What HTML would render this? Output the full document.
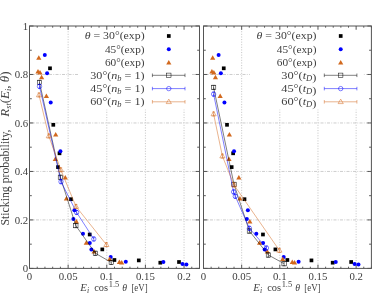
<!DOCTYPE html>
<html><head><meta charset="utf-8"><title>Sticking probability</title>
<style>html,body{margin:0;padding:0;background:#fff;}body{width:374px;height:303px;overflow:hidden;font-family:"Liberation Serif",serif;}svg{display:block;will-change:transform;opacity:0.999;}</style>
</head><body>
<svg width="374" height="303" viewBox="0 0 374 303" font-family="'Liberation Serif', serif" font-size="10.8" fill="#404040">
<rect width="374" height="303" fill="#fff"/>
<path d="M68.14 26.0V268.4M106.77 26.0V268.4M145.41 26.0V268.4M184.05 26.0V268.4" stroke="#909090" stroke-width="0.5" stroke-dasharray="1.1 1.5" fill="none"/>
<path d="M29.5 219.92H199.5M29.5 171.44H199.5M29.5 122.96H199.5M29.5 74.48H199.5" stroke="#9a9a9a" stroke-width="0.5" stroke-dasharray="3 1.3 0.9 1.3" fill="none"/>
<rect x="78.0" y="29.0" width="113.5" height="80.5" fill="#fff"/>
<path d="M29.50 268.4v-3.8M29.50 26.0v3.8M37.23 268.4v-1.7M37.23 26.0v1.7M44.95 268.4v-1.7M44.95 26.0v1.7M52.68 268.4v-1.7M52.68 26.0v1.7M60.41 268.4v-1.7M60.41 26.0v1.7M68.14 268.4v-3.8M68.14 26.0v3.8M75.86 268.4v-1.7M75.86 26.0v1.7M83.59 268.4v-1.7M83.59 26.0v1.7M91.32 268.4v-1.7M91.32 26.0v1.7M99.05 268.4v-1.7M99.05 26.0v1.7M106.77 268.4v-3.8M106.77 26.0v3.8M114.50 268.4v-1.7M114.50 26.0v1.7M122.23 268.4v-1.7M122.23 26.0v1.7M129.95 268.4v-1.7M129.95 26.0v1.7M137.68 268.4v-1.7M137.68 26.0v1.7M145.41 268.4v-3.8M145.41 26.0v3.8M153.14 268.4v-1.7M153.14 26.0v1.7M160.86 268.4v-1.7M160.86 26.0v1.7M168.59 268.4v-1.7M168.59 26.0v1.7M176.32 268.4v-1.7M176.32 26.0v1.7M184.05 268.4v-3.8M184.05 26.0v3.8M191.77 268.4v-1.7M191.77 26.0v1.7M199.50 268.4v-1.7M199.50 26.0v1.7M29.5 268.40h4.0M199.5 268.40h-4.0M29.5 244.16h2.3M199.5 244.16h-2.3M29.5 219.92h4.0M199.5 219.92h-4.0M29.5 195.68h2.3M199.5 195.68h-2.3M29.5 171.44h4.0M199.5 171.44h-4.0M29.5 147.20h2.3M199.5 147.20h-2.3M29.5 122.96h4.0M199.5 122.96h-4.0M29.5 98.72h2.3M199.5 98.72h-2.3M29.5 74.48h4.0M199.5 74.48h-4.0M29.5 50.24h2.3M199.5 50.24h-2.3M29.5 26.00h4.0M199.5 26.00h-4.0" stroke="#333" stroke-width="0.8" fill="none"/>
<rect x="48.15" y="66.45" width="3.7" height="3.7" fill="#000000"/>
<rect x="51.45" y="122.95" width="3.7" height="3.7" fill="#000000"/>
<rect x="57.65" y="151.45" width="3.7" height="3.7" fill="#000000"/>
<rect x="56.15" y="165.25" width="3.7" height="3.7" fill="#000000"/>
<rect x="69.15" y="197.35" width="3.7" height="3.7" fill="#000000"/>
<rect x="87.85" y="232.65" width="3.7" height="3.7" fill="#000000"/>
<rect x="100.45" y="247.55" width="3.7" height="3.7" fill="#000000"/>
<rect x="112.55" y="258.15" width="3.7" height="3.7" fill="#000000"/>
<rect x="136.95" y="258.55" width="3.7" height="3.7" fill="#000000"/>
<rect x="158.45" y="260.85" width="3.7" height="3.7" fill="#000000"/>
<rect x="177.16" y="260.15" width="3.7" height="3.7" fill="#000000"/>
<circle cx="44.80" cy="55.00" r="2.0" fill="#0000ff"/>
<circle cx="47.10" cy="73.20" r="2.0" fill="#0000ff"/>
<circle cx="50.70" cy="102.40" r="2.0" fill="#0000ff"/>
<circle cx="60.40" cy="151.30" r="2.0" fill="#0000ff"/>
<circle cx="74.40" cy="210.20" r="2.0" fill="#0000ff"/>
<circle cx="73.40" cy="219.00" r="2.0" fill="#0000ff"/>
<circle cx="83.00" cy="233.70" r="2.0" fill="#0000ff"/>
<circle cx="89.80" cy="243.00" r="2.0" fill="#0000ff"/>
<circle cx="91.40" cy="249.50" r="2.0" fill="#0000ff"/>
<circle cx="110.70" cy="257.10" r="2.0" fill="#0000ff"/>
<circle cx="125.80" cy="261.70" r="2.0" fill="#0000ff"/>
<circle cx="163.40" cy="262.10" r="2.0" fill="#0000ff"/>
<circle cx="182.51" cy="264.10" r="2.0" fill="#0000ff"/>
<circle cx="186.41" cy="264.50" r="2.0" fill="#0000ff"/>
<path d="M36.20 59.80L41.40 59.80L38.80 55.30Z" fill="#d2691e"/>
<path d="M35.40 73.50L40.60 73.50L38.00 69.00Z" fill="#d2691e"/>
<path d="M37.40 74.50L42.60 74.50L40.00 70.00Z" fill="#d2691e"/>
<path d="M39.00 79.30L44.20 79.30L41.60 74.80Z" fill="#d2691e"/>
<path d="M43.80 97.90L49.00 97.90L46.40 93.40Z" fill="#d2691e"/>
<path d="M53.10 136.50L58.30 136.50L55.70 132.00Z" fill="#d2691e"/>
<path d="M52.70 160.90L57.90 160.90L55.30 156.40Z" fill="#d2691e"/>
<path d="M62.70 179.50L67.90 179.50L65.30 175.00Z" fill="#d2691e"/>
<path d="M63.80 200.60L69.00 200.60L66.40 196.10Z" fill="#d2691e"/>
<path d="M73.80 223.50L79.00 223.50L76.40 219.00Z" fill="#d2691e"/>
<path d="M83.70 244.80L88.90 244.80L86.30 240.30Z" fill="#d2691e"/>
<path d="M91.50 253.50L96.70 253.50L94.10 249.00Z" fill="#d2691e"/>
<path d="M107.10 260.90L112.30 260.90L109.70 256.40Z" fill="#d2691e"/>
<path d="M116.80 263.90L122.00 263.90L119.40 259.40Z" fill="#d2691e"/>
<path d="M119.10 264.50L124.30 264.50L121.70 260.00Z" fill="#d2691e"/>
<polyline points="39.50,82.40 60.40,177.30 75.80,225.60 95.40,253.30 111.30,262.40" fill="none" stroke="#000000" stroke-width="0.5"/>
<path d="M39.50 80.40V84.40M38.10 80.40H40.90M38.10 84.40H40.90" stroke="#000000" stroke-width="0.5" fill="none"/>
<rect x="37.30" y="80.20" width="4.4" height="4.4" fill="none" stroke="#000000" stroke-width="0.5"/>
<path d="M60.40 175.30V179.30M59.00 175.30H61.80M59.00 179.30H61.80" stroke="#000000" stroke-width="0.5" fill="none"/>
<rect x="58.20" y="175.10" width="4.4" height="4.4" fill="none" stroke="#000000" stroke-width="0.5"/>
<path d="M75.80 223.60V227.60M74.40 223.60H77.20M74.40 227.60H77.20" stroke="#000000" stroke-width="0.5" fill="none"/>
<rect x="73.60" y="223.40" width="4.4" height="4.4" fill="none" stroke="#000000" stroke-width="0.5"/>
<path d="M95.40 251.30V255.30M94.00 251.30H96.80M94.00 255.30H96.80" stroke="#000000" stroke-width="0.5" fill="none"/>
<rect x="93.20" y="251.10" width="4.4" height="4.4" fill="none" stroke="#000000" stroke-width="0.5"/>
<path d="M111.30 260.40V264.40M109.90 260.40H112.70M109.90 264.40H112.70" stroke="#000000" stroke-width="0.5" fill="none"/>
<rect x="109.10" y="260.20" width="4.4" height="4.4" fill="none" stroke="#000000" stroke-width="0.5"/>
<polyline points="39.50,86.40 61.00,181.70 76.60,212.40 93.80,239.00" fill="none" stroke="#0000ff" stroke-width="0.5"/>
<path d="M39.50 84.40V88.40M38.10 84.40H40.90M38.10 88.40H40.90" stroke="#0000ff" stroke-width="0.5" fill="none"/>
<circle cx="39.50" cy="86.40" r="2.2" fill="none" stroke="#0000ff" stroke-width="0.5"/>
<path d="M61.00 179.70V183.70M59.60 179.70H62.40M59.60 183.70H62.40" stroke="#0000ff" stroke-width="0.5" fill="none"/>
<circle cx="61.00" cy="181.70" r="2.2" fill="none" stroke="#0000ff" stroke-width="0.5"/>
<path d="M76.60 210.40V214.40M75.20 210.40H78.00M75.20 214.40H78.00" stroke="#0000ff" stroke-width="0.5" fill="none"/>
<circle cx="76.60" cy="212.40" r="2.2" fill="none" stroke="#0000ff" stroke-width="0.5"/>
<path d="M93.80 237.00V241.00M92.40 237.00H95.20M92.40 241.00H95.20" stroke="#0000ff" stroke-width="0.5" fill="none"/>
<circle cx="93.80" cy="239.00" r="2.2" fill="none" stroke="#0000ff" stroke-width="0.5"/>
<polyline points="39.00,95.00 48.80,136.00 60.80,169.80 76.00,206.50 106.40,244.70" fill="none" stroke="#d2691e" stroke-width="0.5"/>
<path d="M39.00 93.00V97.00M37.60 93.00H40.40M37.60 97.00H40.40" stroke="#d2691e" stroke-width="0.5" fill="none"/>
<path d="M36.40 96.80L41.60 96.80L39.00 92.30Z" fill="none" stroke="#d2691e" stroke-width="0.5"/>
<path d="M48.80 134.00V138.00M47.40 134.00H50.20M47.40 138.00H50.20" stroke="#d2691e" stroke-width="0.5" fill="none"/>
<path d="M46.20 137.80L51.40 137.80L48.80 133.30Z" fill="none" stroke="#d2691e" stroke-width="0.5"/>
<path d="M60.80 167.80V171.80M59.40 167.80H62.20M59.40 171.80H62.20" stroke="#d2691e" stroke-width="0.5" fill="none"/>
<path d="M58.20 171.60L63.40 171.60L60.80 167.10Z" fill="none" stroke="#d2691e" stroke-width="0.5"/>
<path d="M76.00 204.50V208.50M74.60 204.50H77.40M74.60 208.50H77.40" stroke="#d2691e" stroke-width="0.5" fill="none"/>
<path d="M73.40 208.30L78.60 208.30L76.00 203.80Z" fill="none" stroke="#d2691e" stroke-width="0.5"/>
<path d="M106.40 242.70V246.70M105.00 242.70H107.80M105.00 246.70H107.80" stroke="#d2691e" stroke-width="0.5" fill="none"/>
<path d="M103.80 246.50L109.00 246.50L106.40 242.00Z" fill="none" stroke="#d2691e" stroke-width="0.5"/>
<rect x="29.5" y="26.0" width="170.0" height="242.39999999999998" fill="none" stroke="#555" stroke-width="1"/>
<text x="29.50" y="279.8" text-anchor="middle">0</text>
<text x="68.14" y="279.8" text-anchor="middle">0.05</text>
<text x="106.77" y="279.8" text-anchor="middle">0.1</text>
<text x="145.41" y="279.8" text-anchor="middle">0.15</text>
<text x="184.05" y="279.8" text-anchor="middle">0.2</text>
<text x="80.20" y="291.0" font-style="italic" textLength="6.6" lengthAdjust="spacingAndGlyphs">E</text>
<text x="87.10" y="292.7" font-style="italic" font-size="7.8">i</text>
<text x="94.20" y="291.0" textLength="13.9" lengthAdjust="spacingAndGlyphs">cos</text>
<text x="108.70" y="287.3" font-size="7.8" textLength="10.5" lengthAdjust="spacingAndGlyphs">1.5</text>
<text x="122.30" y="291.0" font-style="italic" textLength="4.8" lengthAdjust="spacingAndGlyphs">θ</text>
<text x="131.40" y="291.0" textLength="16.2" lengthAdjust="spacingAndGlyphs">[eV]</text>
<text x="84.70" y="39.20" textLength="59.9" lengthAdjust="spacingAndGlyphs"><tspan font-style="italic">θ</tspan> = 30°(exp)</text>
<text x="104.90" y="52.50" textLength="39.7" lengthAdjust="spacingAndGlyphs">45°(exp)</text>
<text x="104.90" y="65.60" textLength="39.7" lengthAdjust="spacingAndGlyphs">60°(exp)</text>
<text x="90.30" y="78.90" textLength="54.3" lengthAdjust="spacingAndGlyphs">30°(<tspan font-style="italic">n<tspan font-size="7.5" dy="1.6">b</tspan><tspan dy="-1.6" font-style="normal"> = 1</tspan></tspan>)</text>
<text x="90.30" y="92.20" textLength="54.3" lengthAdjust="spacingAndGlyphs">45°(<tspan font-style="italic">n<tspan font-size="7.5" dy="1.6">b</tspan><tspan dy="-1.6" font-style="normal"> = 1</tspan></tspan>)</text>
<text x="90.30" y="105.40" textLength="54.3" lengthAdjust="spacingAndGlyphs">60°(<tspan font-style="italic">n<tspan font-size="7.5" dy="1.6">b</tspan><tspan dy="-1.6" font-style="normal"> = 1</tspan></tspan>)</text>
<rect x="166.95" y="34.15" width="3.7" height="3.7" fill="#000000"/>
<circle cx="168.80" cy="49.30" r="2.0" fill="#0000ff"/>
<path d="M166.20 64.40L171.40 64.40L168.80 59.90Z" fill="#d2691e"/>
<path d="M152.40 75.3H185.00M152.40 73.5v3.6M185.00 73.5v3.6" stroke="#000000" stroke-width="0.5" fill="none"/>
<rect x="166.60" y="73.10" width="4.4" height="4.4" fill="none" stroke="#000000" stroke-width="0.5"/>
<path d="M152.40 88.6H185.00M152.40 86.8v3.6M185.00 86.8v3.6" stroke="#0000ff" stroke-width="0.5" fill="none"/>
<circle cx="168.80" cy="88.60" r="2.2" fill="none" stroke="#0000ff" stroke-width="0.5"/>
<path d="M152.40 101.8H185.00M152.40 100.0v3.6M185.00 100.0v3.6" stroke="#d2691e" stroke-width="0.5" fill="none"/>
<path d="M166.20 103.60L171.40 103.60L168.80 99.10Z" fill="none" stroke="#d2691e" stroke-width="0.5"/>
<path d="M241.66 26.0V268.4M279.82 26.0V268.4M317.98 26.0V268.4M356.14 26.0V268.4" stroke="#909090" stroke-width="0.5" stroke-dasharray="1.1 1.5" fill="none"/>
<path d="M203.5 219.92H371.4M203.5 171.44H371.4M203.5 122.96H371.4M203.5 74.48H371.4" stroke="#9a9a9a" stroke-width="0.5" stroke-dasharray="3 1.3 0.9 1.3" fill="none"/>
<rect x="249.89999999999998" y="29.0" width="113.5" height="80.5" fill="#fff"/>
<path d="M203.50 268.4v-3.8M203.50 26.0v3.8M211.13 268.4v-1.7M211.13 26.0v1.7M218.76 268.4v-1.7M218.76 26.0v1.7M226.40 268.4v-1.7M226.40 26.0v1.7M234.03 268.4v-1.7M234.03 26.0v1.7M241.66 268.4v-3.8M241.66 26.0v3.8M249.29 268.4v-1.7M249.29 26.0v1.7M256.92 268.4v-1.7M256.92 26.0v1.7M264.55 268.4v-1.7M264.55 26.0v1.7M272.19 268.4v-1.7M272.19 26.0v1.7M279.82 268.4v-3.8M279.82 26.0v3.8M287.45 268.4v-1.7M287.45 26.0v1.7M295.08 268.4v-1.7M295.08 26.0v1.7M302.71 268.4v-1.7M302.71 26.0v1.7M310.35 268.4v-1.7M310.35 26.0v1.7M317.98 268.4v-3.8M317.98 26.0v3.8M325.61 268.4v-1.7M325.61 26.0v1.7M333.24 268.4v-1.7M333.24 26.0v1.7M340.87 268.4v-1.7M340.87 26.0v1.7M348.50 268.4v-1.7M348.50 26.0v1.7M356.14 268.4v-3.8M356.14 26.0v3.8M363.77 268.4v-1.7M363.77 26.0v1.7M371.40 268.4v-1.7M371.40 26.0v1.7M203.5 268.40h4.0M371.4 268.40h-4.0M203.5 244.16h2.3M371.4 244.16h-2.3M203.5 219.92h4.0M371.4 219.92h-4.0M203.5 195.68h2.3M371.4 195.68h-2.3M203.5 171.44h4.0M371.4 171.44h-4.0M203.5 147.20h2.3M371.4 147.20h-2.3M203.5 122.96h4.0M371.4 122.96h-4.0M203.5 98.72h2.3M371.4 98.72h-2.3M203.5 74.48h4.0M371.4 74.48h-4.0M203.5 50.24h2.3M371.4 50.24h-2.3M203.5 26.00h4.0M371.4 26.00h-4.0" stroke="#333" stroke-width="0.8" fill="none"/>
<rect x="221.90" y="66.45" width="3.7" height="3.7" fill="#000000"/>
<rect x="225.16" y="122.95" width="3.7" height="3.7" fill="#000000"/>
<rect x="231.28" y="151.45" width="3.7" height="3.7" fill="#000000"/>
<rect x="229.80" y="165.25" width="3.7" height="3.7" fill="#000000"/>
<rect x="242.64" y="197.35" width="3.7" height="3.7" fill="#000000"/>
<rect x="261.11" y="232.65" width="3.7" height="3.7" fill="#000000"/>
<rect x="273.55" y="247.55" width="3.7" height="3.7" fill="#000000"/>
<rect x="285.50" y="258.15" width="3.7" height="3.7" fill="#000000"/>
<rect x="309.60" y="258.55" width="3.7" height="3.7" fill="#000000"/>
<rect x="330.84" y="260.85" width="3.7" height="3.7" fill="#000000"/>
<rect x="349.31" y="260.15" width="3.7" height="3.7" fill="#000000"/>
<circle cx="218.61" cy="55.00" r="2.0" fill="#0000ff"/>
<circle cx="220.88" cy="73.20" r="2.0" fill="#0000ff"/>
<circle cx="224.44" cy="102.40" r="2.0" fill="#0000ff"/>
<circle cx="234.02" cy="151.30" r="2.0" fill="#0000ff"/>
<circle cx="247.85" cy="210.20" r="2.0" fill="#0000ff"/>
<circle cx="246.86" cy="219.00" r="2.0" fill="#0000ff"/>
<circle cx="256.34" cy="233.70" r="2.0" fill="#0000ff"/>
<circle cx="263.06" cy="243.00" r="2.0" fill="#0000ff"/>
<circle cx="264.64" cy="249.50" r="2.0" fill="#0000ff"/>
<circle cx="283.70" cy="257.10" r="2.0" fill="#0000ff"/>
<circle cx="298.61" cy="261.70" r="2.0" fill="#0000ff"/>
<circle cx="335.75" cy="262.10" r="2.0" fill="#0000ff"/>
<circle cx="354.62" cy="264.10" r="2.0" fill="#0000ff"/>
<circle cx="358.47" cy="264.50" r="2.0" fill="#0000ff"/>
<path d="M210.09 59.80L215.29 59.80L212.69 55.30Z" fill="#d2691e"/>
<path d="M209.30 73.50L214.50 73.50L211.90 69.00Z" fill="#d2691e"/>
<path d="M211.27 74.50L216.47 74.50L213.87 70.00Z" fill="#d2691e"/>
<path d="M212.85 79.30L218.05 79.30L215.45 74.80Z" fill="#d2691e"/>
<path d="M217.59 97.90L222.79 97.90L220.19 93.40Z" fill="#d2691e"/>
<path d="M226.78 136.50L231.98 136.50L229.38 132.00Z" fill="#d2691e"/>
<path d="M226.38 160.90L231.58 160.90L228.98 156.40Z" fill="#d2691e"/>
<path d="M236.26 179.50L241.46 179.50L238.86 175.00Z" fill="#d2691e"/>
<path d="M237.35 200.60L242.55 200.60L239.95 196.10Z" fill="#d2691e"/>
<path d="M247.22 223.50L252.42 223.50L249.82 219.00Z" fill="#d2691e"/>
<path d="M257.00 244.80L262.20 244.80L259.60 240.30Z" fill="#d2691e"/>
<path d="M264.70 253.50L269.90 253.50L267.30 249.00Z" fill="#d2691e"/>
<path d="M280.11 260.90L285.31 260.90L282.71 256.40Z" fill="#d2691e"/>
<path d="M289.69 263.90L294.89 263.90L292.29 259.40Z" fill="#d2691e"/>
<path d="M291.96 264.50L297.16 264.50L294.56 260.00Z" fill="#d2691e"/>
<polyline points="213.60,87.40 234.00,184.40 249.40,231.00 268.40,255.00 284.10,263.70" fill="none" stroke="#000000" stroke-width="0.5"/>
<path d="M213.60 85.40V89.40M212.20 85.40H215.00M212.20 89.40H215.00" stroke="#000000" stroke-width="0.5" fill="none"/>
<rect x="211.40" y="85.20" width="4.4" height="4.4" fill="none" stroke="#000000" stroke-width="0.5"/>
<path d="M234.00 182.40V186.40M232.60 182.40H235.40M232.60 186.40H235.40" stroke="#000000" stroke-width="0.5" fill="none"/>
<rect x="231.80" y="182.20" width="4.4" height="4.4" fill="none" stroke="#000000" stroke-width="0.5"/>
<path d="M249.40 229.00V233.00M248.00 229.00H250.80M248.00 233.00H250.80" stroke="#000000" stroke-width="0.5" fill="none"/>
<rect x="247.20" y="228.80" width="4.4" height="4.4" fill="none" stroke="#000000" stroke-width="0.5"/>
<path d="M268.40 253.00V257.00M267.00 253.00H269.80M267.00 257.00H269.80" stroke="#000000" stroke-width="0.5" fill="none"/>
<rect x="266.20" y="252.80" width="4.4" height="4.4" fill="none" stroke="#000000" stroke-width="0.5"/>
<path d="M284.10 261.70V265.70M282.70 261.70H285.50M282.70 265.70H285.50" stroke="#000000" stroke-width="0.5" fill="none"/>
<rect x="281.90" y="261.50" width="4.4" height="4.4" fill="none" stroke="#000000" stroke-width="0.5"/>
<polyline points="213.60,94.10 233.60,191.90 235.30,196.30 249.40,228.30 266.50,248.00" fill="none" stroke="#0000ff" stroke-width="0.5"/>
<path d="M213.60 92.10V96.10M212.20 92.10H215.00M212.20 96.10H215.00" stroke="#0000ff" stroke-width="0.5" fill="none"/>
<circle cx="213.60" cy="94.10" r="2.2" fill="none" stroke="#0000ff" stroke-width="0.5"/>
<path d="M233.60 189.90V193.90M232.20 189.90H235.00M232.20 193.90H235.00" stroke="#0000ff" stroke-width="0.5" fill="none"/>
<circle cx="233.60" cy="191.90" r="2.2" fill="none" stroke="#0000ff" stroke-width="0.5"/>
<path d="M235.30 194.30V198.30M233.90 194.30H236.70M233.90 198.30H236.70" stroke="#0000ff" stroke-width="0.5" fill="none"/>
<circle cx="235.30" cy="196.30" r="2.2" fill="none" stroke="#0000ff" stroke-width="0.5"/>
<path d="M249.40 226.30V230.30M248.00 226.30H250.80M248.00 230.30H250.80" stroke="#0000ff" stroke-width="0.5" fill="none"/>
<circle cx="249.40" cy="228.30" r="2.2" fill="none" stroke="#0000ff" stroke-width="0.5"/>
<path d="M266.50 246.00V250.00M265.10 246.00H267.90M265.10 250.00H267.90" stroke="#0000ff" stroke-width="0.5" fill="none"/>
<circle cx="266.50" cy="248.00" r="2.2" fill="none" stroke="#0000ff" stroke-width="0.5"/>
<polyline points="213.60,114.00 222.40,156.10 234.00,185.00 279.40,250.40" fill="none" stroke="#d2691e" stroke-width="0.5"/>
<path d="M213.60 112.00V116.00M212.20 112.00H215.00M212.20 116.00H215.00" stroke="#d2691e" stroke-width="0.5" fill="none"/>
<path d="M211.00 115.80L216.20 115.80L213.60 111.30Z" fill="none" stroke="#d2691e" stroke-width="0.5"/>
<path d="M222.40 154.10V158.10M221.00 154.10H223.80M221.00 158.10H223.80" stroke="#d2691e" stroke-width="0.5" fill="none"/>
<path d="M219.80 157.90L225.00 157.90L222.40 153.40Z" fill="none" stroke="#d2691e" stroke-width="0.5"/>
<path d="M234.00 183.00V187.00M232.60 183.00H235.40M232.60 187.00H235.40" stroke="#d2691e" stroke-width="0.5" fill="none"/>
<path d="M231.40 186.80L236.60 186.80L234.00 182.30Z" fill="none" stroke="#d2691e" stroke-width="0.5"/>
<path d="M279.40 248.40V252.40M278.00 248.40H280.80M278.00 252.40H280.80" stroke="#d2691e" stroke-width="0.5" fill="none"/>
<path d="M276.80 252.20L282.00 252.20L279.40 247.70Z" fill="none" stroke="#d2691e" stroke-width="0.5"/>
<rect x="203.5" y="26.0" width="167.89999999999998" height="242.39999999999998" fill="none" stroke="#555" stroke-width="1"/>
<text x="203.50" y="279.8" text-anchor="middle">0</text>
<text x="241.66" y="279.8" text-anchor="middle">0.05</text>
<text x="279.82" y="279.8" text-anchor="middle">0.1</text>
<text x="317.98" y="279.8" text-anchor="middle">0.15</text>
<text x="356.14" y="279.8" text-anchor="middle">0.2</text>
<text x="253.15" y="291.0" font-style="italic" textLength="6.6" lengthAdjust="spacingAndGlyphs">E</text>
<text x="260.05" y="292.7" font-style="italic" font-size="7.8">i</text>
<text x="267.15" y="291.0" textLength="13.9" lengthAdjust="spacingAndGlyphs">cos</text>
<text x="281.65" y="287.3" font-size="7.8" textLength="10.5" lengthAdjust="spacingAndGlyphs">1.5</text>
<text x="295.25" y="291.0" font-style="italic" textLength="4.8" lengthAdjust="spacingAndGlyphs">θ</text>
<text x="304.35" y="291.0" textLength="16.2" lengthAdjust="spacingAndGlyphs">[eV]</text>
<text x="256.60" y="39.20" textLength="59.9" lengthAdjust="spacingAndGlyphs"><tspan font-style="italic">θ</tspan> = 30°(exp)</text>
<text x="276.80" y="52.50" textLength="39.7" lengthAdjust="spacingAndGlyphs">45°(exp)</text>
<text x="276.80" y="65.60" textLength="39.7" lengthAdjust="spacingAndGlyphs">60°(exp)</text>
<text x="281.20" y="78.90" textLength="35.3" lengthAdjust="spacingAndGlyphs">30°(<tspan font-style="italic">t<tspan font-size="7.5" dy="1.6">D</tspan><tspan dy="-1.6"></tspan></tspan>)</text>
<text x="281.20" y="92.20" textLength="35.3" lengthAdjust="spacingAndGlyphs">45°(<tspan font-style="italic">t<tspan font-size="7.5" dy="1.6">D</tspan><tspan dy="-1.6"></tspan></tspan>)</text>
<text x="281.20" y="105.40" textLength="35.3" lengthAdjust="spacingAndGlyphs">60°(<tspan font-style="italic">t<tspan font-size="7.5" dy="1.6">D</tspan><tspan dy="-1.6"></tspan></tspan>)</text>
<rect x="338.85" y="34.15" width="3.7" height="3.7" fill="#000000"/>
<circle cx="340.70" cy="49.30" r="2.0" fill="#0000ff"/>
<path d="M338.10 64.40L343.30 64.40L340.70 59.90Z" fill="#d2691e"/>
<path d="M324.30 75.3H356.90M324.30 73.5v3.6M356.90 73.5v3.6" stroke="#000000" stroke-width="0.5" fill="none"/>
<rect x="338.50" y="73.10" width="4.4" height="4.4" fill="none" stroke="#000000" stroke-width="0.5"/>
<path d="M324.30 88.6H356.90M324.30 86.8v3.6M356.90 86.8v3.6" stroke="#0000ff" stroke-width="0.5" fill="none"/>
<circle cx="340.70" cy="88.60" r="2.2" fill="none" stroke="#0000ff" stroke-width="0.5"/>
<path d="M324.30 101.8H356.90M324.30 100.0v3.6M356.90 100.0v3.6" stroke="#d2691e" stroke-width="0.5" fill="none"/>
<path d="M338.10 103.60L343.30 103.60L340.70 99.10Z" fill="none" stroke="#d2691e" stroke-width="0.5"/>
<text x="28.2" y="272.10" text-anchor="end">0</text>
<text x="28.2" y="223.62" text-anchor="end">0.2</text>
<text x="28.2" y="175.14" text-anchor="end">0.4</text>
<text x="28.2" y="126.66" text-anchor="end">0.6</text>
<text x="28.2" y="78.18" text-anchor="end">0.8</text>
<text x="28.2" y="29.70" text-anchor="end">1</text>
<g font-size="12" transform="translate(9.3 225.5) rotate(-90)"><text x="0" y="0" textLength="96" lengthAdjust="spacingAndGlyphs">Sticking probability,</text><text x="108.8" y="0" textLength="45.2" lengthAdjust="spacingAndGlyphs"><tspan font-style="italic">R</tspan><tspan font-size="7.5" dy="1.6" font-style="italic">st</tspan><tspan dy="-1.6">(</tspan><tspan font-style="italic">E</tspan><tspan font-size="7.5" dy="1.6" font-style="italic">i</tspan><tspan dy="-1.6">, </tspan><tspan font-style="italic">θ</tspan>)</text></g>
</svg>
</body></html>
